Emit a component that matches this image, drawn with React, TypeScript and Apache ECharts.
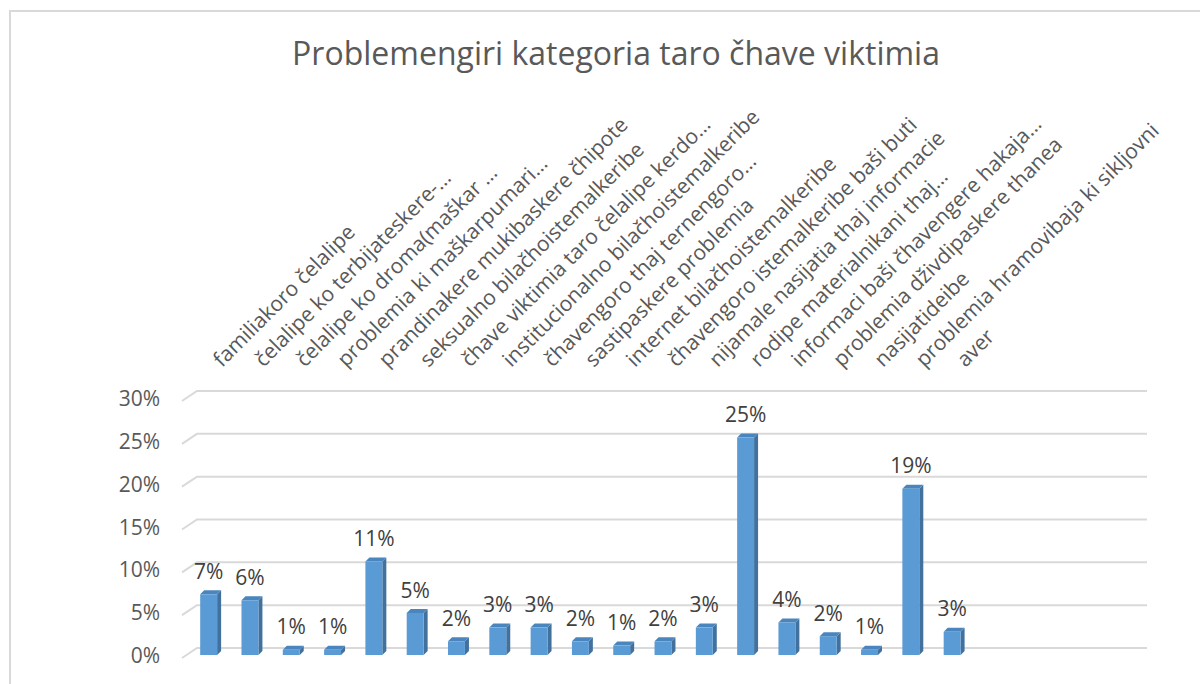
import React, { useEffect, useRef } from "react";
import * as echarts from "echarts";

const titleText = "Problemengiri kategoria taro čhave viktimia";

const categories = [
  "familiakoro čelalipe",
  "čelalipe ko terbijateskere-…",
  "čelalipe ko droma(maškar …",
  "problemia ki maškarpumari…",
  "prandinakere mukibaskere čhipote",
  "seksualno bilačhoistemalkeribe",
  "čhave viktimia taro čelalipe kerdo…",
  "institucionalno bilačhoistemalkeribe",
  "čhavengoro thaj ternengoro…",
  "sastipaskere problemia",
  "internet bilačhoistemalkeribe",
  "čhavengoro istemalkeribe baši buti",
  "nijamale nasijatia thaj informacie",
  "rodipe materialnikani thaj…",
  "informaci baši čhavengere hakaja…",
  "problemia dživdipaskere thanea",
  "nasijatideibe",
  "problemia hramovibaja ki sikljovni",
  "aver",
  "",
  "",
  "",
  "",
];

const values = [7.1, 6.4, 0.6, 0.6, 10.9, 4.9, 1.6, 3.2, 3.2, 1.6, 1.1, 1.6, 3.2, 25.4, 3.8, 2.2, 0.6, 19.4, 2.7];

const yTicks = [0, 5, 10, 15, 20, 25, 30];

const FONT = "Open Sans";

export default function App() {
  const ref = useRef<HTMLDivElement>(null);
  useEffect(() => {
    document.body.style.margin = "0";
    const chart = echarts.init(ref.current!, null, { renderer: "svg" });
    const D = 4;
    chart.setOption({
      animation: false,
      backgroundColor: "#ffffff",
      textStyle: { fontFamily: FONT },
      title: {
        text: titleText,
        left: 611,
        top: 31,
        textAlign: "center",
        textStyle: { fontFamily: FONT, fontSize: 32, fontWeight: "normal", color: "#595959" },
      },
      graphic: [
        {
          type: "rect",
          shape: { x: 10, y: 11, width: 1250, height: 760 },
          style: { fill: "none", stroke: "#d9d9d9", lineWidth: 2 },
          silent: true,
        },
      ],
      grid: { left: 188, right: 62, top: 398, bottom: 29 },
      xAxis: {
        type: "category",
        position: "top",
        data: categories,
        axisLine: { show: false },
        axisTick: { show: false },
        splitLine: { show: false },
        axisLabel: {
          interval: 0,
          rotate: 45,
          margin: 28,
          padding: [0, 0, 0, 11],
          fontSize: 21,
          color: "#595959",
          fontFamily: FONT,
        },
      },
      yAxis: {
        type: "value",
        min: 0,
        max: 30,
        interval: 5,
        axisLine: { show: false },
        axisTick: { show: false },
        splitLine: { show: false },
        axisLabel: {
          formatter: "{value}%",
          margin: 28,
          fontSize: 21,
          color: "#595959",
          fontFamily: FONT,
          padding: [12, 0, 0, 0],
        },
      },
      series: [
        {
          type: "custom",
          z: 1,
          silent: true,
          data: yTicks.map((t) => [0, t]),
          renderItem: (params: any, api: any) => {
            const cs = params.coordSys;
            const py = api.coord([0, api.value(1)])[1];
            return {
              type: "polyline",
              shape: {
                points: [
                  [cs.x - 6, py + 3],
                  [cs.x + 9, py - 7],
                  [cs.x + cs.width + 9, py - 7],
                ],
              },
              style: { stroke: "#d9d9d9", lineWidth: 2, fill: "none" },
            };
          },
        },
        {
          type: "custom",
          z: 3,
          data: values.map((v, i) => [i, v]),
          renderItem: (params: any, api: any) => {
            const i = api.value(0);
            const v = api.value(1);
            const base = api.coord([i, 0]);
            const top = api.coord([i, v]);
            const bw = api.size([1, 0])[0] * 0.41;
            const l = base[0] - bw / 2;
            const r = base[0] + bw / 2;
            const t = top[1];
            const b = base[1];
            return {
              type: "group",
              children: [
                {
                  type: "polygon",
                  shape: { points: [[r, t], [r + D, t - D], [r + D, b - D], [r, b]] },
                  style: { fill: "#41719c" },
                },
                {
                  type: "polygon",
                  shape: { points: [[l, t], [l + D, t - D], [r + D, t - D], [r, t]] },
                  style: { fill: "#4a86bd" },
                },
                {
                  type: "rect",
                  shape: { x: l, y: t, width: bw, height: b - t },
                  style: { fill: "#5b9bd5" },
                },
                {
                  type: "text",
                  x: base[0],
                  y: t - D - 9,
                  style: {
                    text: Math.round(v) + "%",
                    textAlign: "center",
                    textVerticalAlign: "bottom",
                    fontSize: 21,
                    fontFamily: FONT,
                    fill: "#404040",
                  },
                },
              ],
            };
          },
        },
      ],
    });
    return () => chart.dispose();
  }, []);
  return <div ref={ref} style={{ width: 1200, height: 684 }} />;
}
